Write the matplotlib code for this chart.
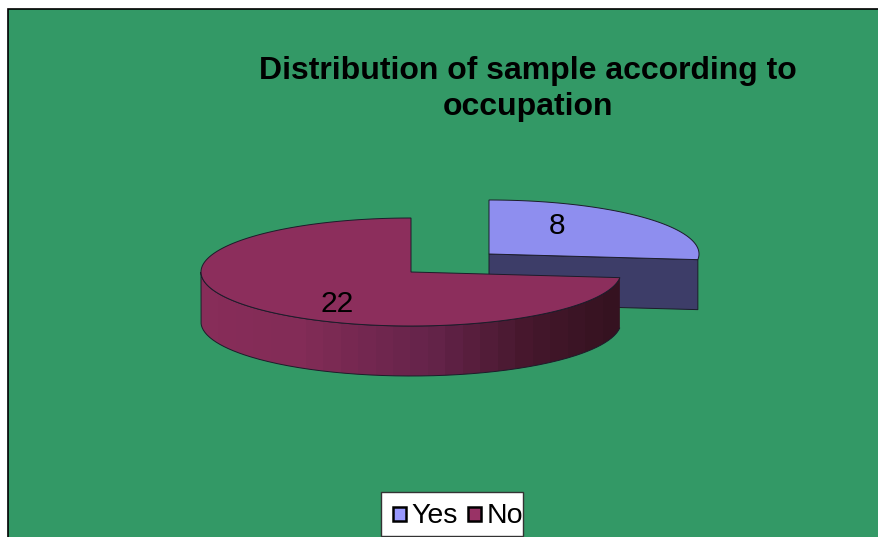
import numpy as np
import matplotlib
matplotlib.use("Agg")
import matplotlib.pyplot as plt
from matplotlib.colors import LinearSegmentedColormap
from matplotlib.patches import PathPatch, Polygon, Rectangle
from matplotlib.path import Path

plt.rcParams["font.family"] = ["Liberation Sans", "DejaVu Sans"]

TITLE_LINES = ["Distribution of sample according to", "occupation"]
labels = ["Yes", "No"]
counts = [8, 22]

BG = "#339966"
LEGEND_COLORS = ["#9999ff", "#993366"]
YES_TOP = "#8e8eef"
YES_SIDE = "#3d3d68"
NO_TOP = "#8c2e5c"
EDGE = "#1c1c2a"

# pie geometry in pixels
RX, RY, DEPTH = 210, 54, 50
NO_CENTER = (411, 272)
YES_CENTER = (489, 254)


def rim(center, a0, a1, n=200):
    """Points on the ellipse, angles in degrees clockwise from 12 o'clock."""
    t = np.radians(np.linspace(a0, a1, n))
    return np.column_stack([center[0] + RX * np.sin(t), center[1] - RY * np.cos(t)])


fig = plt.figure(figsize=(8.79, 5.37), dpi=100, facecolor="white")
ax = fig.add_axes([0, 0, 1, 1])
ax.set_xlim(0, 879)
ax.set_ylim(537, 0)
ax.axis("off")

ax.add_patch(Rectangle((8, 9), 880, 540, fc=BG, ec="black", lw=1.2))

split = 360 * counts[0] / sum(counts)

# Yes slice: cut face first, then the top
yx, yy = YES_CENTER
end = rim(YES_CENTER, split, split, 1)[0]
ax.add_patch(Polygon([(yx, yy), end, end + (0, DEPTH), (yx, yy + DEPTH)],
                     fc=YES_SIDE, ec=EDGE, lw=0.7, zorder=2))
ax.add_patch(Polygon(np.vstack([[(yx, yy)], rim(YES_CENTER, 0, split)]),
                     fc=YES_TOP, ec=EDGE, lw=0.7, zorder=3))

# No slice: outer wall with a left-to-right shade, then the top
front = rim(NO_CENTER, split, 270)
wall = np.vstack([front, front[::-1] + (0, DEPTH)])
wall_patch = PathPatch(Path(wall), fc="none", ec=EDGE, lw=0.7, zorder=5)
ax.add_patch(wall_patch)
shade = LinearSegmentedColormap.from_list(
    "wall", [(0, "#872d59"), (0.22, "#832c57"), (0.55, "#65244a"), (0.8, "#45172c"), (1, "#351220")])
img = ax.imshow(np.linspace(0, 1, 24)[None, :], cmap=shade, aspect="auto", zorder=4,
                extent=(wall[:, 0].min(), wall[:, 0].max(), 400, 200),
                interpolation="nearest")
img.set_clip_path(wall_patch)
ax.set_xlim(0, 879)
ax.set_ylim(537, 0)

ax.add_patch(Polygon(np.vstack([[NO_CENTER], rim(NO_CENTER, split, 360)]),
                     fc=NO_TOP, ec=EDGE, lw=0.7, zorder=6))

ax.text(557, 226.5, str(counts[0]), fontsize=21.5, ha="center", va="center", zorder=7)
ax.text(337, 304.5, str(counts[1]), fontsize=21.5, ha="center", va="center", zorder=7)

for line, y in zip(TITLE_LINES, (71, 107)):
    ax.text(528, y, line, fontsize=23, fontweight="bold", ha="center", va="center", zorder=7)

# legend box, clipped close to the lower edge
ax.add_patch(Rectangle((381, 492), 142, 44, fc="white", ec="#333333", lw=1, zorder=8))
for label, color, box_x, text_x in zip(labels, LEGEND_COLORS, (393, 468), (411, 487)):
    ax.add_patch(Rectangle((box_x, 507), 13, 14, fc=color, ec="black", lw=1.8, zorder=9))
    ax.text(text_x, 516, label, fontsize=20.5, ha="left", va="center", zorder=9)

fig.savefig("out.png", dpi=100)
